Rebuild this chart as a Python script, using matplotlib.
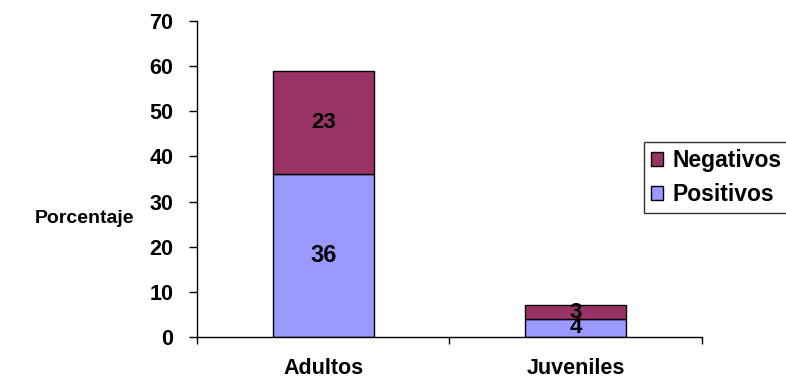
import matplotlib.pyplot as plt
from matplotlib.patches import Patch

plt.rcParams["font.family"] = ["Liberation Sans", "DejaVu Sans"]
plt.rcParams["font.weight"] = "bold"

categories = ["Adultos", "Juveniles"]
positivos = [36, 4]
negativos = [23, 3]

POS_COLOR = "#9999FF"
NEG_COLOR = "#993366"

fig = plt.figure(figsize=(7.86, 3.84), dpi=100)
ax = fig.add_axes([0.2506, 0.1224, 0.6424, 0.8229])

x = range(len(categories))
ax.bar(x, positivos, width=0.4, color=POS_COLOR, edgecolor="black", linewidth=1)
ax.bar(x, negativos, width=0.4, bottom=positivos, color=NEG_COLOR,
       edgecolor="black", linewidth=1)

# value labels inside each segment
pos_sizes = [17, 16]
neg_sizes = [16, 16]
for i in x:
    ax.text(i, positivos[i] / 2, str(positivos[i]), ha="center", va="center",
            fontsize=pos_sizes[i], fontweight="bold")
    ax.text(i, positivos[i] + negativos[i] / 2, str(negativos[i]), ha="center",
            va="center", fontsize=neg_sizes[i], fontweight="bold")

ax.set_xlim(-0.5, 1.5)
ax.set_ylim(0, 70)
ax.set_yticks(range(0, 71, 10))
ax.set_xticks([-0.5, 0.5, 1.5])
ax.set_xticklabels(["", "", ""])
ax.set_xticks([0, 1], minor=True)
ax.set_xticklabels(categories, minor=True)
ax.tick_params(axis="x", which="minor", length=0, pad=15, labelsize=15.5)
ax.tick_params(axis="x", which="major", length=5, direction="out", width=1)
ax.tick_params(axis="y", length=6, direction="out", width=1, labelsize=15.5, pad=11)
for lbl in ax.get_xticklabels(minor=True) + ax.get_yticklabels():
    lbl.set_fontweight("bold")

for side in ("top", "right"):
    ax.spines[side].set_visible(False)
for side in ("left", "bottom"):
    ax.spines[side].set_linewidth(1)

fig.text(0.044, 0.432, "Porcentaje", ha="left", va="center", fontsize=14,
         fontweight="bold")

handles = [Patch(facecolor=NEG_COLOR, edgecolor="black", label="Negativos"),
           Patch(facecolor=POS_COLOR, edgecolor="black", label="Positivos")]
leg = fig.legend(handles=handles, loc="upper left", bbox_to_anchor=(0.819, 0.63),
                 frameon=True, fancybox=False, edgecolor="black", fontsize=16.5,
                 handlelength=0.55, handleheight=0.55, handletextpad=0.4,
                 borderpad=0.3, labelspacing=0.5, borderaxespad=0)
leg.get_frame().set_linewidth(1)
for t in leg.get_texts():
    t.set_fontweight("bold")

fig.savefig("out.png", dpi=100, facecolor="white")
